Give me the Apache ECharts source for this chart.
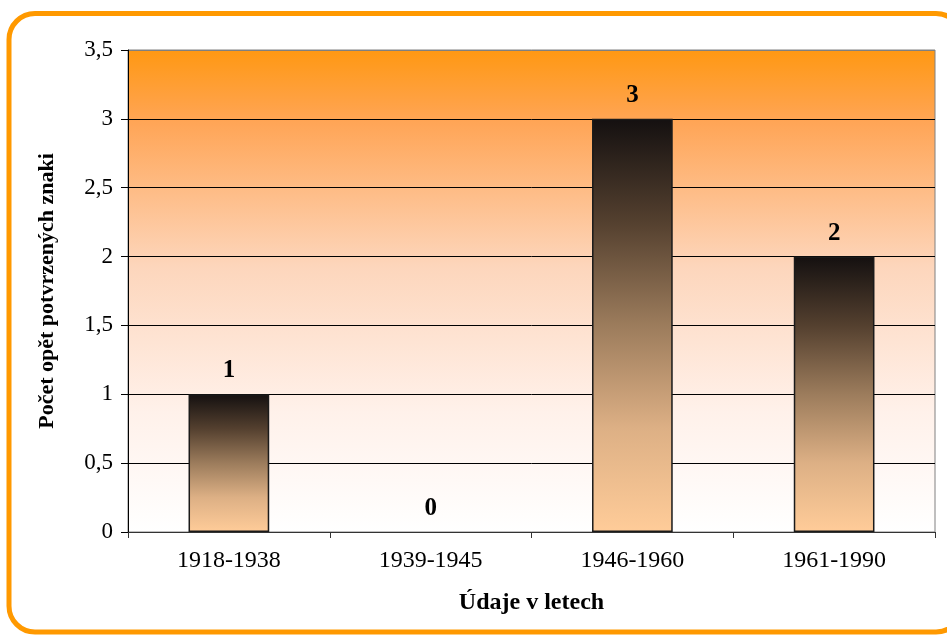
<!DOCTYPE html>
<html>
<head>
<meta charset="utf-8">
<script src="https://cdn.jsdelivr.net/npm/echarts@6/dist/echarts.min.js"></script>
<style>html,body{margin:0;padding:0;background:#fff;}#c{width:947px;height:637px;}</style>
</head>
<body>
<div id="c"></div>
<script>
const categories = ['1918-1938', '1939-1945', '1946-1960', '1961-1990'];
const values = [1, 0, 3, 2];
const yTicks = [0, 0.5, 1, 1.5, 2, 2.5, 3, 3.5];
const xTitle = 'Údaje v letech';
const yTitle = 'Počet opět potvrzených znaki';

const chart = echarts.init(document.getElementById('c'), null, {renderer: 'canvas'});
const serif = '"Liberation Serif", "DejaVu Serif", serif';
const gridLineColors = yTicks.map((t, i) => i === yTicks.length - 1 ? '#808080' : '#000');
chart.setOption({
  animation: false,
  backgroundColor: '#ffffff',
  graphic: [{
    type: 'rect', z: 100,
    shape: {x: 9, y: 13.5, width: 953, height: 618.5, r: 26},
    style: {fill: 'none', stroke: '#FF9900', lineWidth: 5}
  }],
  grid: {
    left: 128, right: 12, top: 50, bottom: 105,
    show: true, borderColor: '#808080', borderWidth: 1,
    backgroundColor: {
      type: 'linear', x: 0, y: 0, x2: 0, y2: 1,
      colorStops: [
        {offset: 0, color: '#FF9812'},
        {offset: 0.15, color: '#FFA556'},
        {offset: 0.45, color: '#FDD6BC'},
        {offset: 0.75, color: '#FFF1EA'},
        {offset: 1, color: '#FFFFFF'}
      ]
    }
  },
  xAxis: {
    type: 'category', data: categories,
    axisLine: {lineStyle: {color: '#333333', width: 1}},
    axisTick: {show: true, length: 6, lineStyle: {color: '#333'}},
    axisLabel: {color: '#000', fontFamily: serif, fontSize: 24, margin: 17},
    name: xTitle, nameLocation: 'middle', nameGap: 59,
    nameTextStyle: {color: '#000', fontFamily: serif, fontSize: 24, fontWeight: 'bold'}
  },
  yAxis: {
    type: 'value', min: yTicks[0], max: yTicks[yTicks.length - 1], interval: 0.5,
    axisLine: {show: true, lineStyle: {color: '#000', width: 1}},
    axisTick: {show: true, length: 7, lineStyle: {color: '#000'}},
    splitLine: {lineStyle: {color: gridLineColors, width: 1}},
    axisLabel: {color: '#000', fontFamily: serif, fontSize: 23, margin: 15,
      formatter: v => String(v).replace('.', ',')},
    name: yTitle, nameLocation: 'middle', nameGap: 70,
    nameTextStyle: {color: '#000', fontFamily: serif, fontSize: 22, fontWeight: 'bold'}
  },
  series: [{
    type: 'bar', barWidth: '40%',
    data: values.map(v => v === 0 ? {value: v, itemStyle: {borderWidth: 0, opacity: 0}} : v),
    itemStyle: {
      borderColor: '#1a1a1a', borderWidth: 1.5,
      color: {
        type: 'linear', x: 0, y: 0, x2: 0, y2: 1,
        colorStops: [
          {offset: 0, color: '#141010'},
          {offset: 0.25, color: '#54402f'},
          {offset: 0.5, color: '#9c7c5c'},
          {offset: 0.75, color: '#DDB085'},
          {offset: 1, color: '#FFCC99'}
        ]
      }
    },
    label: {show: true, position: 'top', distance: 11, color: '#000', opacity: 1,
      fontFamily: serif, fontSize: 25, fontWeight: 'bold'}
  }]
});
</script>
</body>
</html>
